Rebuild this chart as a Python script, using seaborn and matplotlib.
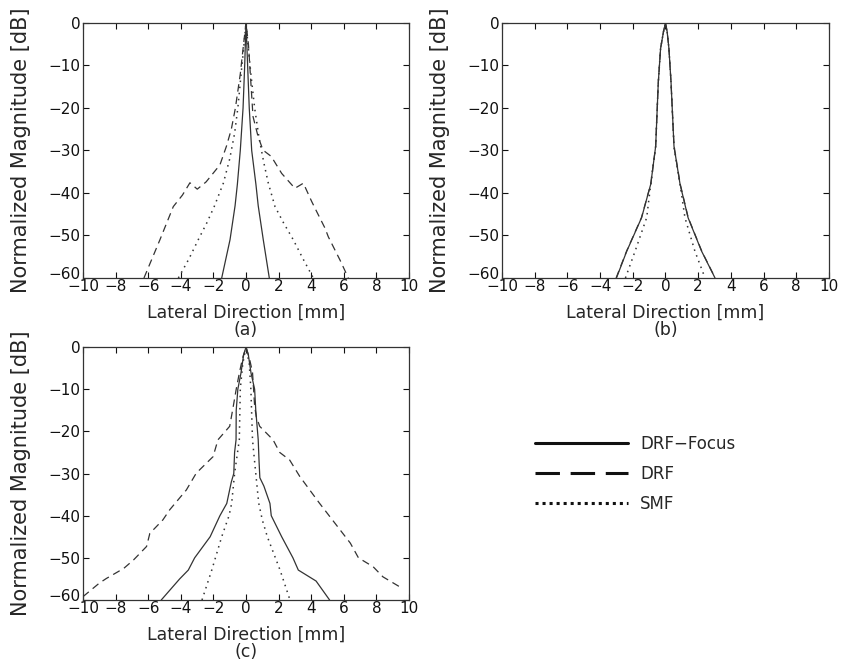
import numpy as np
import pandas as pd
import seaborn as sns
import matplotlib
matplotlib.use("Agg")
import matplotlib.pyplot as plt
import matplotlib.transforms as mtransforms
from matplotlib.lines import Line2D

sns.set_style("ticks")
plt.rcParams["font.family"] = ["DejaVu Sans"]

# ---- beam profiles (lateral position in mm, normalized magnitude in dB) ----
# (a)
a_focus_x = [-1.49, -0.98, -0.67, -0.53, -0.35, -0.18, -0.08, 0.0, 0.1, 0.2, 0.35, 0.61, 0.75, 1.06, 1.43]
a_focus_y = [-60, -51, -43, -38, -30, -20, -10, 0, -10, -20, -30, -38, -43, -51, -60]
a_drf_x = [-6.26, -5.77, -5.28, -4.46, -3.9, -3.44, -2.99, -2.45, -1.6, -1.2, -0.9, -0.65, -0.35, -0.15, 0.0,
           0.15, 0.43, 0.74, 1.04, 1.55, 2.19, 3.0, 3.52, 4.03, 4.34, 4.85, 5.05, 5.77, 6.28]
a_drf_y = [-60, -55.5, -51, -43.2, -40.5, -37.6, -39.1, -37.4, -33.4, -29, -25, -20, -12, -5, 0,
           -5, -22, -26.7, -29.9, -31.4, -35.4, -38.9, -37.7, -42, -44.4, -48.3, -50.3, -55.8, -60]
a_smf_x = [-4.15, -3.5, -2.93, -2.4, -1.95, -1.39, -1.0, -0.7, -0.5, -0.3, -0.12, 0.0,
           0.12, 0.3, 0.53, 0.8, 1.1, 1.37, 1.78, 2.3, 2.9, 3.5, 4.13]
a_smf_y = [-60, -55.5, -51, -47, -43.2, -37.7, -32, -26, -20, -12, -5, 0,
           -5, -12, -20, -27, -33, -37.7, -43.2, -47, -51, -55.5, -60]

# (b)
b_focus_x = [-3.0, -2.37, -1.46, -0.9, -0.6, -0.44, -0.3, -0.12, 0.0, 0.1, 0.21, 0.34, 0.52, 0.89, 1.38, 2.21, 3.03]
b_focus_y = [-60, -53.7, -45.8, -37.9, -29, -14, -6, -2, 0, -2, -6, -14, -29, -37.9, -45.8, -53.7, -60]
b_drf_x = [-3.02, -2.38, -1.47, -0.9, -0.6, -0.44, -0.3, -0.12, 0.0, 0.1, 0.21, 0.34, 0.52, 0.9, 1.39, 2.22, 3.04]
b_drf_y = [-60, -53.7, -45.8, -37.9, -29, -14, -6, -2, 0, -2, -6, -14, -29, -37.9, -45.8, -53.7, -60]
b_smf_x = [-2.45, -1.86, -1.15, -0.9, -0.6, -0.44, -0.3, -0.12, 0.0, 0.1, 0.21, 0.34, 0.52, 0.89, 1.19, 1.8, 2.42]
b_smf_y = [-60, -53.7, -45.8, -37.9, -29, -14, -6, -2, 0, -2, -6, -14, -29, -37.9, -45.8, -53.7, -60]

# (c)
c_focus_x = [-5.2, -4.07, -3.54, -3.15, -2.2, -1.6, -1.18, -0.9, -0.75, -0.7, -0.61, -0.6, -0.5, -0.31, -0.15, 0.0,
             0.15, 0.31, 0.53, 0.6, 0.75, 0.8, 0.85, 1.1, 1.47, 1.55, 2.19, 2.88, 3.21, 4.3, 5.13]
c_focus_y = [-60, -55, -52.9, -50, -45, -40, -37.1, -32, -30, -25, -22, -15, -10, -6.2, -2, 0,
             -2, -6.2, -10, -15, -22, -27, -31, -33, -37.1, -40, -45, -50, -52.9, -55.5, -60]
c_drf_x = [-10.0, -9.0, -8.57, -7.5, -6.9, -6.1, -5.9, -5.1, -4.68, -3.66, -3.05, -2.02, -1.72, -1.0, -0.8, -0.6,
           -0.4, -0.2, 0.0, 0.2, 0.4, 0.53, 0.63, 0.84, 1.66, 2.07, 2.68, 3.3, 4.5, 5.1, 6.4, 6.9, 7.8, 8.4, 9.4, 9.6]
c_drf_y = [-59.2, -56, -54.9, -52.5, -50.5, -47.3, -44.2, -41, -38.6, -33.9, -29.9, -26, -22, -18.8, -14.5, -10,
           -6, -2.5, 0, -2.5, -6, -14, -16.5, -18.8, -22, -25, -26.8, -30.7, -37, -40, -46.5, -50, -52.1, -54.5, -56.8, -57]
c_smf_x = [-2.7, -2.1, -1.49, -1.04, -0.88, -0.7, -0.41, -0.35, -0.2, 0.0, 0.2, 0.3, 0.4, 0.6, 0.78, 1.0, 1.31, 2.09, 2.7]
c_smf_y = [-60, -52.9, -45, -40, -37.1, -30, -22, -10, -4, 0, -4, -10, -22, -30, -37, -41, -45, -52.9, -60]

x_ticks = [-10, -8, -6, -4, -2, 0, 2, 4, 6, 8, 10]
y_ticks = [-60, -50, -40, -30, -20, -10, 0]
series_names = ["DRF\u2212Focus", "DRF", "SMF"]
panel_tags = ["(a)", "(b)", "(c)"]

panels = [
    [(a_focus_x, a_focus_y), (a_drf_x, a_drf_y), (a_smf_x, a_smf_y)],
    [(b_focus_x, b_focus_y), (b_drf_x, b_drf_y), (b_smf_x, b_smf_y)],
    [(c_focus_x, c_focus_y), (c_drf_x, c_drf_y), (c_smf_x, c_smf_y)],
]

line_color = "#333333"
styles = [
    dict(linestyle="-", lw=0.9),
    dict(linestyle=(0, (6, 4)), lw=0.9),
    dict(linestyle=(0, (1, 3)), lw=1.1),
]

fig = plt.figure(figsize=(8.41, 6.60), dpi=100)
boxes = [
    [0.0987, 0.5788, 0.3876, 0.3864],
    [0.5969, 0.5788, 0.3888, 0.3864],
    [0.0987, 0.0909, 0.3876, 0.3833],
]

# raise the bottom y tick label a little so it sits above the x tick labels
raise_offset = mtransforms.ScaledTranslation(0, 5 / 100, fig.dpi_scale_trans)

for box, curves, tag in zip(boxes, panels, panel_tags):
    ax = fig.add_axes(box)
    for (xs, ys), name, st in zip(curves, series_names, styles):
        df = pd.DataFrame({"x": xs, "y": ys})
        sns.lineplot(data=df, x="x", y="y", sort=False, estimator=None, ax=ax,
                     color=line_color, linestyle=st["linestyle"], lw=st["lw"], legend=False)
    ax.set_xlim(-10, 10)
    ax.set_ylim(-60, 0)
    ax.set_xticks(x_ticks)
    ax.set_yticks(y_ticks)
    ax.tick_params(direction="in", length=4, width=0.8, top=True, right=True,
                   labelsize=11, colors="#111111", pad=2)
    ax.tick_params(axis="x", pad=1)
    for sp in ax.spines.values():
        sp.set_linewidth(0.9)
        sp.set_color("#333333")
    bottom_label = ax.get_yticklabels()[0]
    bottom_label.set_transform(bottom_label.get_transform() + raise_offset)
    ax.set_xlabel("Lateral Direction [mm]\n" + tag, fontsize=12.5, labelpad=7, linespacing=0.95)
    ax.set_ylabel("Normalized Magnitude [dB]", fontsize=15, labelpad=12)

handles = [
    Line2D([], [], color="#111111", lw=2.2, linestyle="-"),
    Line2D([], [], color="#111111", lw=2.2, linestyle=(0, (8, 3.5))),
    Line2D([], [], color="#111111", lw=2.2, linestyle=(0, (1, 1.3))),
]
fig.legend(handles, series_names, loc="upper left", bbox_to_anchor=(0.636, 0.341),
           frameon=False, fontsize=12, handlelength=5.6, handletextpad=0.7,
           labelspacing=0.72, borderpad=0, borderaxespad=0)

fig.savefig("out.png", dpi=100)
